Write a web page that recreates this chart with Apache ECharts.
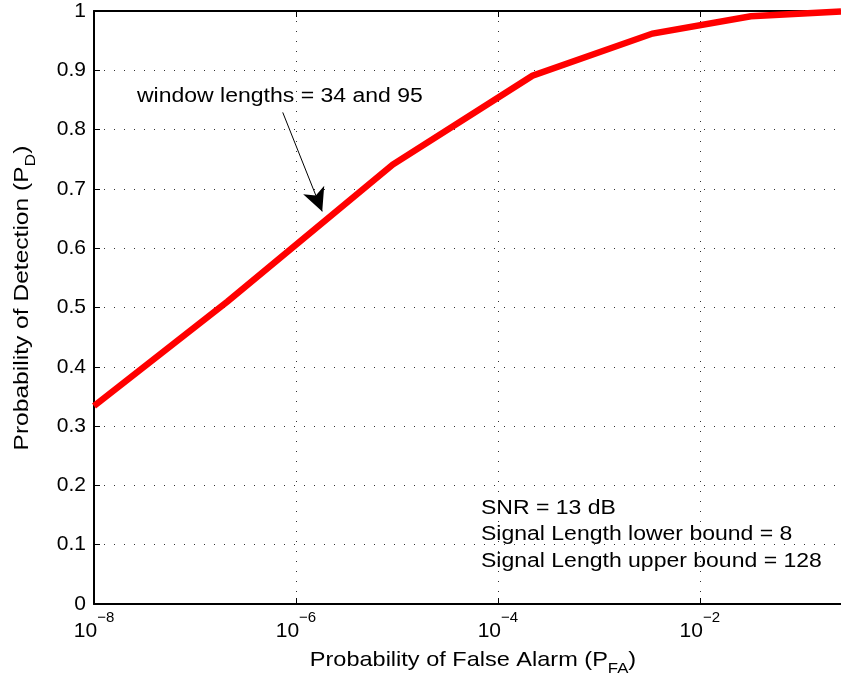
<!DOCTYPE html>
<html>
<head>
<meta charset="utf-8">
<script src="https://cdn.jsdelivr.net/npm/echarts@6/dist/echarts.min.js"></script>
<style>
html,body{margin:0;padding:0;background:#fff;overflow:hidden;}
#chart{width:841px;height:683px;}
</style>
</head>
<body>
<div id="chart"></div>
<script>
// Data
const pfa = [1e-8, 2.1e-7, 9.1e-6, 2.2e-4, 3.4e-3, 3.2e-2, 0.25];
const pd  = [0.334, 0.510, 0.741, 0.891, 0.962, 0.991, 0.999];
const xRange = [1e-8, 0.25];
const yTicks = [0, 0.1, 0.2, 0.3, 0.4, 0.5, 0.6, 0.7, 0.8, 0.9, 1];
const arrowFrom = [7.4e-7, 0.829];
const arrowTo = [1.82e-6, 0.662];
const xTitle = ['Probability of False Alarm (P', 'FA', ')'];
const yTitle = ['Probability of Detection (P', 'D', ')'];
const annotation = 'window lengths = 34 and 95';
const infoLines = ['SNR = 13 dB', 'Signal Length lower bound = 8', 'Signal Length upper bound = 128'];

const FONT = '"Liberation Sans", Arial, Helvetica, sans-serif';
const lg = v => Math.log10(v);
const seriesData = pfa.map((p, i) => [lg(p), pd[i]]);

const chart = echarts.init(document.getElementById('chart'), null, {renderer: 'canvas', width: 841, height: 683});

const xLabelFmt = v => {
  if (Math.abs(v - Math.round(v)) > 1e-9) return '';
  const e = Math.round(v);
  return '{b|10}{sup|' + (e < 0 ? '\u2212' + Math.abs(e) : e) + '}';
};
const titleRich = {
  n: {fontFamily: FONT, fontSize: 21, lineHeight: 21, verticalAlign: 'top', fill: '#000', color: '#000'},
  sub: {fontFamily: FONT, fontSize: 15, lineHeight: 27, verticalAlign: 'bottom', fill: '#000', color: '#000'}
};
const titleText = t => '{n|' + t[0] + '}{sub|' + t[1] + '}{n|' + t[2] + '}';

const option = {
  animation: false,
  backgroundColor: '#fff',
  textStyle: {fontFamily: FONT, color: '#000'},
  grid: {left: 94, top: 11, width: 747, height: 593, containLabel: false},
  xAxis: [{
    type: 'value',
    min: lg(xRange[0]), max: lg(xRange[1]), interval: 2,
    position: 'bottom',
    axisLine: {show: true, onZero: false, lineStyle: {color: '#000', width: 2}},
    axisTick: {show: true, inside: true, length: 6, lineStyle: {color: '#000', width: 1}},
    axisLabel: {
      show: true, margin: 6, showMaxLabel: false, formatter: xLabelFmt,
      rich: {
        b: {fontFamily: FONT, fontSize: 21, lineHeight: 32, verticalAlign: 'bottom', color: '#000'},
        sup: {fontFamily: FONT, fontSize: 15, lineHeight: 15, verticalAlign: 'top', color: '#000'}
      }
    },
    splitLine: {show: true, lineStyle: {color: '#333', width: 1, type: [1, 9]}}
  }, {
    type: 'value',
    min: lg(xRange[0]), max: lg(xRange[1]), interval: 2,
    position: 'top',
    axisLine: {show: true, onZero: false, lineStyle: {color: '#000', width: 2}},
    axisTick: {show: true, inside: true, length: 6, lineStyle: {color: '#000', width: 1}},
    axisLabel: {show: false},
    splitLine: {show: false}
  }],
  yAxis: [{
    type: 'value',
    min: yTicks[0], max: yTicks[yTicks.length - 1], interval: 0.1,
    position: 'left',
    axisLine: {show: true, onZero: false, lineStyle: {color: '#000', width: 2}},
    axisTick: {show: true, inside: true, length: 6, lineStyle: {color: '#000', width: 1}},
    axisLabel: {
      margin: 8, fontFamily: FONT, fontSize: 21, color: '#000',
      formatter: v => {
        const t = yTicks.find(k => Math.abs(k - v) < 1e-9);
        return t === undefined ? '' : String(t);
      }
    },
    splitLine: {show: true, lineStyle: {color: '#333', width: 1, type: [1, 9]}}
  }],
  series: [{
    type: 'line',
    data: seriesData,
    showSymbol: false,
    symbol: 'none',
    clip: false,
    lineStyle: {color: '#ff0000', width: 6.5, join: 'miter'},
    z: 3,
    markLine: {
      silent: true,
      animation: false,
      symbol: ['none', 'arrow'],
      symbolSize: [17, 23],
      label: {show: false},
      lineStyle: {color: '#000', width: 1, type: 'solid'},
      itemStyle: {color: '#000'},
      emphasis: {disabled: true},
      data: [[
        {coord: [lg(arrowFrom[0]), arrowFrom[1]]},
        {coord: [lg(arrowTo[0]), arrowTo[1]]}
      ]]
    }
  }],
  graphic: [{
    type: 'text', x: 137, y: 96, scaleX: 1.15,
    style: {text: annotation, font: '20px ' + FONT, fill: '#000', textAlign: 'left', textVerticalAlign: 'middle'}
  }, {
    type: 'text', x: 481, y: 494.75, scaleX: 1.15,
    style: {text: infoLines.join('\n'), font: '20px ' + FONT, lineHeight: 26.5, fill: '#000', textAlign: 'left', textVerticalAlign: 'top'}
  }, {
    type: 'text', x: 473, y: 663, scaleX: 1.12,
    style: {text: titleText(xTitle), rich: titleRich, font: '21px ' + FONT, fill: '#000', textAlign: 'center', textVerticalAlign: 'middle'}
  }, {
    type: 'text', x: 25, y: 298, rotation: Math.PI / 2, scaleX: 1.17,
    style: {text: titleText(yTitle), rich: titleRich, font: '21px ' + FONT, fill: '#000', textAlign: 'center', textVerticalAlign: 'middle'}
  }]
};
chart.setOption(option);
</script>
</body>
</html>
